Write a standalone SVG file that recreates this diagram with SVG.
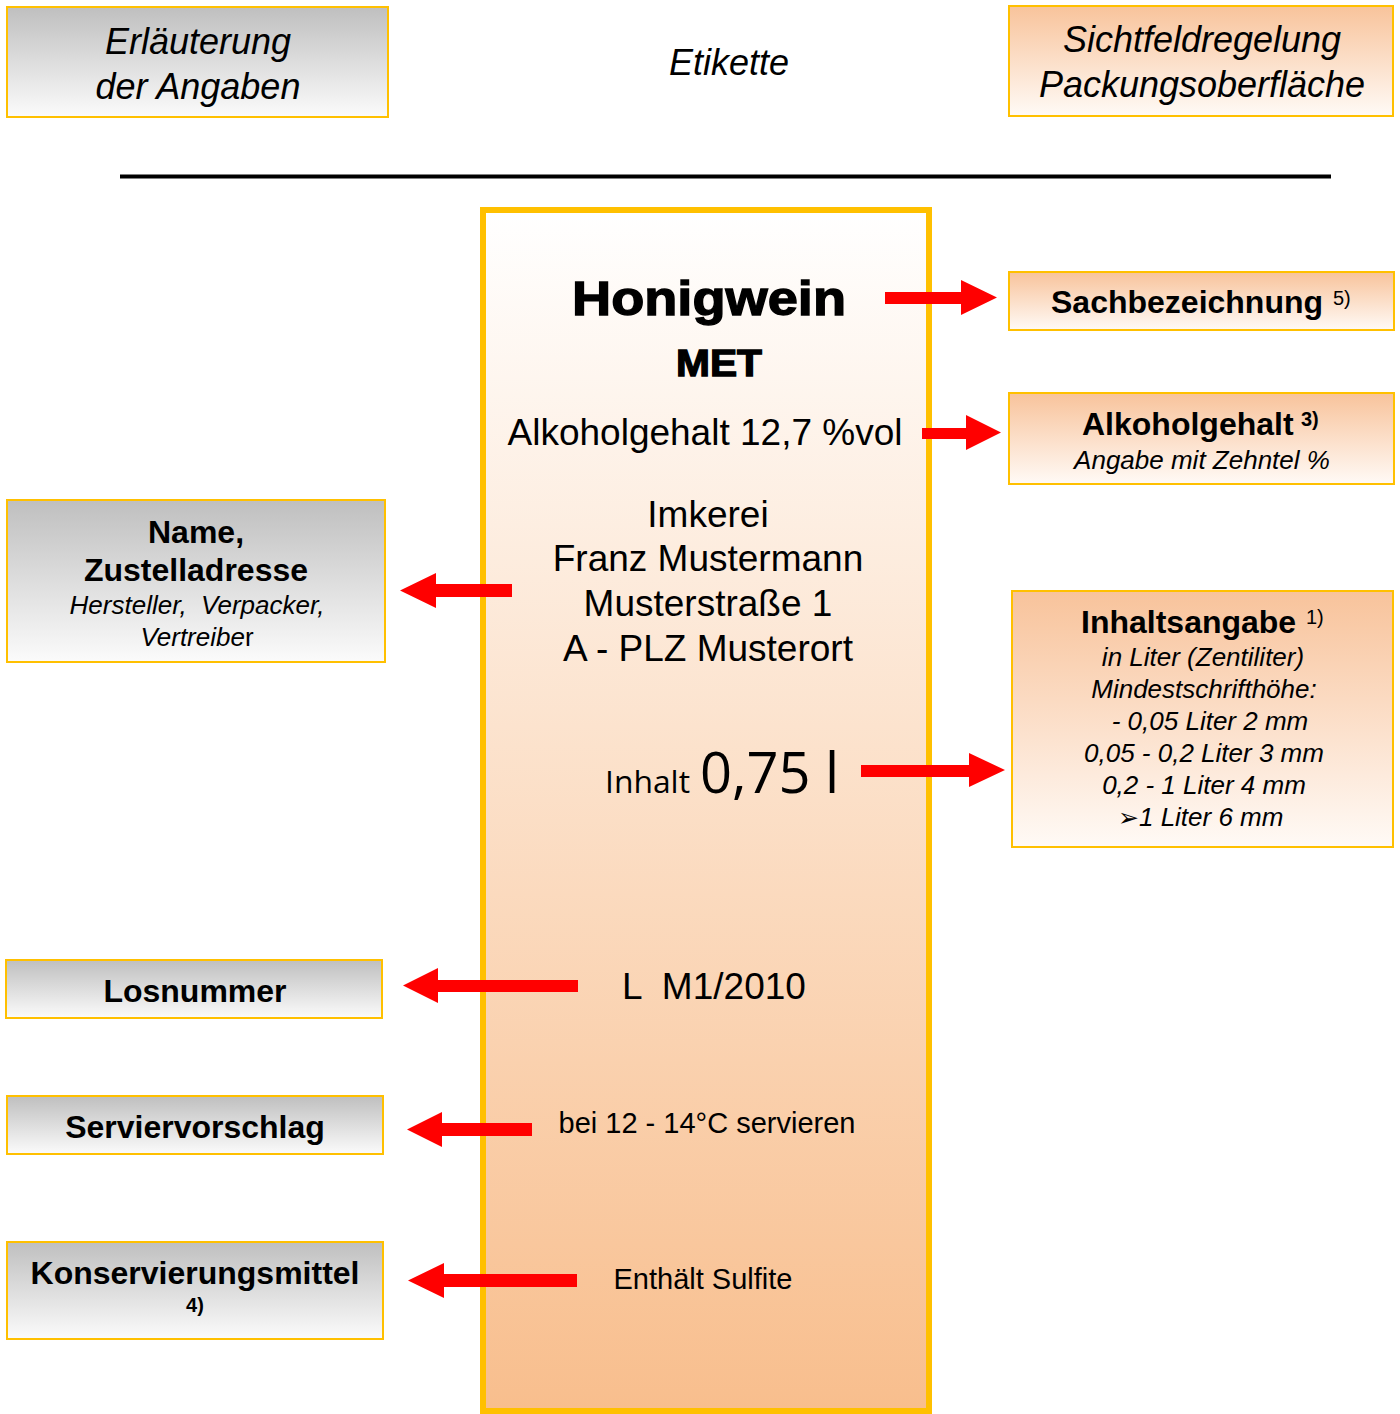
<svg xmlns="http://www.w3.org/2000/svg" width="1400" height="1414" viewBox="0 0 1400 1414">
<defs>
<linearGradient id="gGray" x1="0" y1="0" x2="0" y2="1"><stop offset="0" stop-color="#bfbfbf"/><stop offset="1" stop-color="#fbfbfb"/></linearGradient>
<linearGradient id="gOrange" x1="0" y1="0" x2="0" y2="1"><stop offset="0" stop-color="#f8c39b"/><stop offset="1" stop-color="#fffaf6"/></linearGradient>
<linearGradient id="gLabel" x1="0" y1="0" x2="0" y2="1"><stop offset="0" stop-color="#ffffff"/><stop offset="1" stop-color="#f8be8d"/></linearGradient>
</defs>
<style>
.box{stroke:#ffc000;stroke-width:2}
.gray{fill:url(#gGray)}
.orange{fill:url(#gOrange)}
text{font-family:"Liberation Sans",Arial,sans-serif;fill:#000}
.hd{font-size:36px;font-style:italic;text-anchor:middle}
.b32{font-size:32px;font-weight:bold;text-anchor:middle}
.it26{font-size:26px;font-style:italic;text-anchor:middle}
.sup{font-size:20px}
.lab{font-size:37px;text-anchor:middle}
.lab29{font-size:29px;text-anchor:middle}
.heavy{font-weight:bold;stroke:#000;stroke-width:1.3;text-anchor:middle}
.arrow{fill:#ff0000}
</style>

<g id="header-left">
<rect class="box gray" x="7" y="7" width="381" height="110"/>
<text class="hd" x="198" y="54">Erläuterung</text>
<text class="hd" x="198" y="99">der Angaben</text>
</g>
<g id="header-center">
<text class="hd" x="729" y="75">Etikette</text>
</g>
<g id="header-right">
<rect class="box orange" x="1009" y="6" width="384" height="110"/>
<text class="hd" x="1202" y="52">Sichtfeldregelung</text>
<text class="hd" x="1202" y="97">Packungsoberfläche</text>
</g>
<g id="divider">
<line x1="120" y1="176.5" x2="1331" y2="176.5" stroke="#000" stroke-width="4"/>
</g>

<g id="etikett">
<rect x="483" y="210" width="446" height="1201" fill="url(#gLabel)" stroke="#ffc000" stroke-width="6"/>
<text class="heavy" x="709" y="315" font-size="48" textLength="274" lengthAdjust="spacingAndGlyphs">Honigwein</text>
<text class="heavy" x="719" y="376" font-size="37" textLength="86" lengthAdjust="spacingAndGlyphs">MET</text>
<text class="lab" x="705" y="445">Alkoholgehalt 12,7 %vol</text>
<text class="lab" x="708" y="527">Imkerei</text>
<text class="lab" x="708" y="571">Franz Mustermann</text>
<text class="lab" x="708" y="616">Musterstraße 1</text>
<text class="lab" x="708" y="661">A - PLZ Musterort</text>
<text x="605" y="793" style="font-family:'Open Sans','Noto Sans',sans-serif;font-size:31px" textLength="85" lengthAdjust="spacingAndGlyphs">Inhalt</text>
<text x="700" y="793" style="font-family:'Open Sans','Noto Sans',sans-serif;font-size:56px">0,75 l</text>
<text class="lab" x="714" y="999" style="white-space:pre" xml:space="preserve">L  M1/2010</text>
<text class="lab29" x="707" y="1133">bei 12 - 14°C servieren</text>
<text class="lab29" x="703" y="1289">Enthält Sulfite</text>
</g>

<g id="sachbezeichnung">
<rect class="box orange" x="1009" y="272" width="385" height="58"/>
<text x="1051" y="313" style="font-size:32px;font-weight:bold">Sachbezeichnung</text>
<text class="sup" x="1333" y="305">5)</text>
</g>

<g id="alkoholgehalt">
<rect class="box orange" x="1009" y="393" width="385" height="91"/>
<text x="1082" y="435" style="font-size:32px;font-weight:bold">Alkoholgehalt</text>
<text class="sup" x="1301" y="426" font-weight="bold">3)</text>
<text class="it26" x="1202" y="469">Angabe mit Zehntel %</text>
</g>

<g id="name">
<rect class="box gray" x="7" y="500" width="378" height="162"/>
<text class="b32" x="196" y="543">Name,</text>
<text class="b32" x="196" y="581">Zustelladresse</text>
<text class="it26" x="197" y="614" style="white-space:pre" xml:space="preserve">Hersteller,  Verpacker,</text>
<text class="it26" x="197" y="646">Vertreibe<tspan font-style="normal">r</tspan></text>
</g>

<g id="inhaltsangabe">
<rect class="box orange" x="1012" y="591" width="381" height="256"/>
<text x="1081" y="633" style="font-size:32px;font-weight:bold">Inhaltsangabe</text>
<text class="sup" x="1306" y="624">1)</text>
<text class="it26" x="1203" y="666">in Liter (Zentiliter)</text>
<text class="it26" x="1204" y="698">Mindestschrifthöhe:</text>
<text class="it26" x="1210" y="730">- 0,05 Liter 2 mm</text>
<text class="it26" x="1204" y="762">0,05 - 0,2 Liter 3 mm</text>
<text class="it26" x="1204" y="794">0,2 - 1 Liter 4 mm</text>
<text x="1118" y="826" style="font-size:26px;font-style:italic"><tspan style="font-family:'DejaVu Sans',sans-serif;font-style:normal;font-size:25px">➢</tspan>1 Liter 6 mm</text>
</g>

<g id="losnummer">
<rect class="box gray" x="6" y="960" width="376" height="58"/>
<text class="b32" x="195" y="1002">Losnummer</text>
</g>

<g id="serviervorschlag">
<rect class="box gray" x="7" y="1096" width="376" height="58"/>
<text class="b32" x="195" y="1138">Serviervorschlag</text>
</g>

<g id="konservierungsmittel">
<rect class="box gray" x="7" y="1242" width="376" height="97"/>
<text class="b32" x="195" y="1284">Konservierungsmittel</text>
<text x="195" y="1312" style="font-size:20px;font-weight:bold;text-anchor:middle">4)</text>
</g>

<g id="connectors">
<polygon class="arrow" points="885,292 961,292 961,280 997,297.5 961,315 961,304 885,304"/>
<polygon class="arrow" points="922,428 966,428 966,415 1001,432.5 966,450 966,439 922,439"/>
<polygon class="arrow" points="512,584 436,584 436,573 400,590.5 436,608 436,597 512,597"/>
<polygon class="arrow" points="861,765 969,765 969,753 1005,770 969,787 969,777 861,777"/>
<polygon class="arrow" points="578,980 438,980 438,968 403,985.5 438,1003 438,992 578,992"/>
<polygon class="arrow" points="532,1123 442,1123 442,1112 407,1129.5 442,1147 442,1136 532,1136"/>
<polygon class="arrow" points="577,1274 444,1274 444,1263 408,1280.5 444,1298 444,1287 577,1287"/>
</g>
</svg>
